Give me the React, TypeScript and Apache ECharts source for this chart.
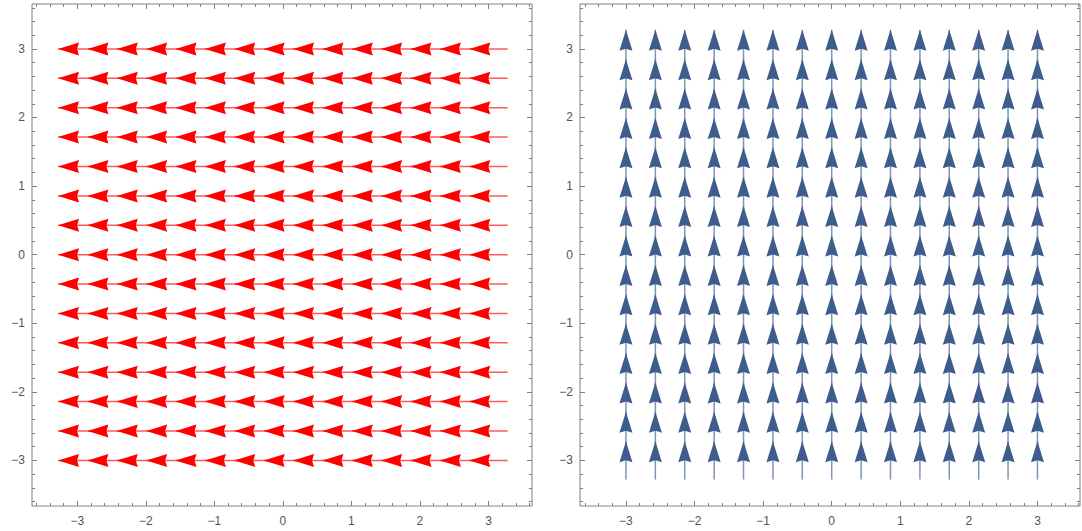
import React, { useEffect, useRef } from "react";
import * as echarts from "echarts";

// grid sample positions (15 per axis, from -3 to 3)
const gridVals = [-3, -2.571, -2.143, -1.714, -1.286, -0.857, -0.429, 0, 0.429, 0.857, 1.286, 1.714, 2.143, 2.571, 3];
// vector field components
const leftField = { u: -1, v: 0 };
const rightField = { u: 0, v: 1 };
// tick values
const majorTicks = [-3, -2, -1, 0, 1, 2, 3];
const minorTicks = [-3.6, -3.4, -3.2, -2.8, -2.6, -2.4, -2.2, -1.8, -1.6, -1.4, -1.2, -0.8, -0.6, -0.4, -0.2, 0.2, 0.4, 0.6, 0.8, 1.2, 1.4, 1.6, 1.8, 2.2, 2.4, 2.6, 2.8, 3.2, 3.4, 3.6];

const HALF = 0.28;
const FRAME = "#808080";

function buildData(f: { u: number; v: number }) {
  const out: number[][] = [];
  for (const y of gridVals) for (const x of gridVals) out.push([x, y, f.u, f.v]);
  return out;
}

function geom(api: any) {
  const x = api.value(0), y = api.value(1), u = api.value(2), v = api.value(3);
  const p0 = api.coord([x - u * HALF, y - v * HALF]);
  const p1 = api.coord([x + u * HALF, y + v * HALF]);
  const dx = p1[0] - p0[0], dy = p1[1] - p0[1];
  const len = Math.hypot(dx, dy) || 1;
  return { p0, p1, ux: dx / len, uy: dy / len };
}

function shaftSeries(idx: number, data: number[][], color: string) {
  return {
    type: "custom",
    xAxisIndex: idx * 4,
    yAxisIndex: idx * 4,
    data,
    silent: true,
    renderItem: (_p: any, api: any) => {
      const { p0, p1 } = geom(api);
      return {
        type: "line",
        shape: { x1: p0[0], y1: p0[1], x2: p1[0], y2: p1[1] },
        style: { stroke: color, lineWidth: 1.5 },
      };
    },
  };
}

function headSeries(idx: number, data: number[][], color: string) {
  return {
    type: "custom",
    xAxisIndex: idx * 4,
    yAxisIndex: idx * 4,
    data,
    silent: true,
    z: 3,
    renderItem: (_p: any, api: any) => {
      const { p1, ux, uy } = geom(api);
      const hl = 21, hw = 6.5, notch = 2;
      const px = -uy, py = ux;
      const bx = p1[0] - ux * hl, by = p1[1] - uy * hl;
      return {
        type: "polygon",
        shape: {
          points: [
            [p1[0], p1[1]],
            [bx + px * hw, by + py * hw],
            [bx + ux * notch, by + uy * notch],
            [bx - px * hw, by - py * hw],
          ],
        },
        style: { fill: color },
      };
    },
  };
}

const fmt = (v: number) => String(v).replace("-", "\u2212");

function axes(gridIndex: number, dim: "x" | "y", min: number, max: number) {
  const posA = dim === "x" ? "bottom" : "left";
  const posB = dim === "x" ? "top" : "right";
  const base = (position: string, ticks: number[], len: number, labels: boolean) => ({
    type: "value",
    gridIndex,
    position,
    min,
    max,
    axisLine: { show: false, onZero: false },
    splitLine: { show: false },
    axisTick: { show: true, inside: true, length: len, customValues: ticks, lineStyle: { color: FRAME, width: 1 } },
    axisLabel: labels
      ? { show: true, customValues: majorTicks, formatter: fmt, color: "#555", fontSize: 12, fontFamily: "Liberation Sans, Arial, sans-serif", margin: dim === "x" ? 9 : 7 }
      : { show: false },
  });
  return [
    base(posA, majorTicks, 5, true),
    base(posA, minorTicks, 3, false),
    base(posB, majorTicks, 5, false),
    base(posB, minorTicks, 3, false),
  ];
}

export default function App() {
  const ref = useRef<HTMLDivElement>(null);
  useEffect(() => {
    const chart = echarts.init(ref.current!, null, { renderer: "svg" });
    const leftData = buildData(leftField);
    const rightData = buildData(rightField);
    chart.setOption({
      animation: false,
      backgroundColor: "#ffffff",
      grid: [
        { left: 32, top: 4, width: 500, height: 502, show: true, borderColor: FRAME, borderWidth: 1, backgroundColor: "transparent" },
        { left: 580, top: 4, width: 500, height: 502, show: true, borderColor: FRAME, borderWidth: 1, backgroundColor: "transparent" },
      ],
      xAxis: [...axes(0, "x", -3.66, 3.635), ...axes(1, "x", -3.67, 3.62)],
      yAxis: [...axes(0, "y", -3.665, 3.655), ...axes(1, "y", -3.665, 3.655)],
      series: [
        shaftSeries(0, leftData, "#ff5a5a"),
        headSeries(0, leftData, "#ff0000"),
        shaftSeries(1, rightData, "#7f95b6"),
        headSeries(1, rightData, "#3e5d8c"),
      ],
    });
    return () => chart.dispose();
  }, []);
  return <div ref={ref} style={{ position: "fixed", left: 0, top: 0, width: 1082, height: 531 }} />;
}
